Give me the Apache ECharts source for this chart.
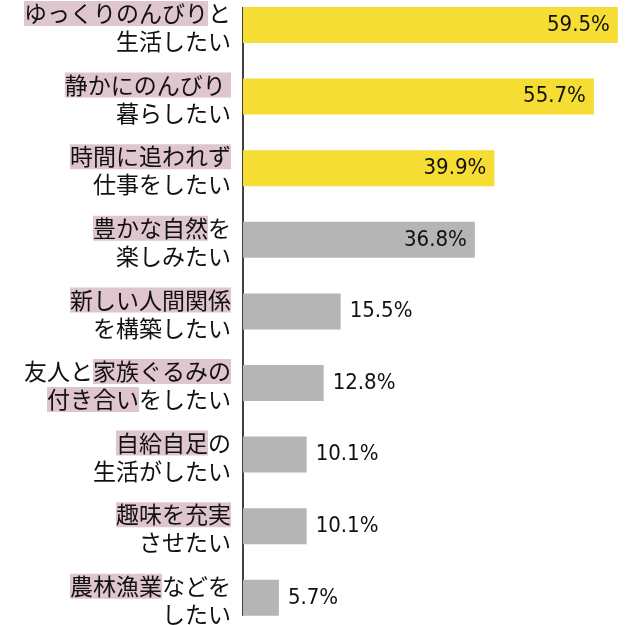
<!DOCTYPE html>
<html>
<head>
<meta charset="utf-8">
<script src="https://cdn.jsdelivr.net/npm/echarts@6/dist/echarts.min.js"></script>
<style>
  html, body { margin: 0; padding: 0; background: #fff; }
  #chart { width: 635px; height: 625px; }
</style>
</head>
<body>
<div id="chart"></div>
<script>
// カテゴリ ({h|...} = ハイライト部分)
var categories = [
    '{h|ゆっくりのんびり}と\n生活したい',
    '{h|静かにのんびり }\n暮らしたい',
    '{h|時間に追われず}\n仕事をしたい',
    '{h|豊かな自然}を\n楽しみたい',
    '{h|新しい人間関係}\nを構築したい',
    '友人と{h|家族ぐるみの}\n{h|付き合い}をしたい',
    '{h|自給自足}の\n生活がしたい',
    '{h|趣味を充実}\nさせたい',
    '{h|農林漁業}などを\nしたい'
];
var values = [59.5, 55.7, 39.9, 36.8, 15.5, 12.8, 10.1, 10.1, 5.7];
var highlighted = 3; // 上位3つは黄色

var yellow = '#f6dd33';
var gray = '#b5b5b5';
var numFont = '"Liberation Sans Narrow", "DejaVu Sans Condensed", sans-serif';
var jpFont = '"Noto Sans CJK JP", sans-serif';

var myChart = echarts.init(document.getElementById('chart'));

var barData = values.map(function (v, i) {
    return {
        value: v,
        itemStyle: { color: i < highlighted ? yellow : gray },
        label: { position: v > 30 ? 'insideRight' : 'right', distance: v > 30 ? 8 : 9 }
    };
});

var option = {
    animation: false,
    grid: { left: 243, right: 14, top: -10.8, height: 644.4, outerBoundsMode: 'none', containLabel: false },
    xAxis: { type: 'value', min: 0, max: 60, show: false },
    yAxis: {
        type: 'category',
        data: categories,
        inverse: true,
        axisLine: { show: false },
        axisTick: { show: false },
        axisLabel: {
            margin: 12,
            color: '#111',
            fontFamily: jpFont,
            fontSize: 23,
            lineHeight: 28,
            align: 'right',
            padding: [5, 0, 0, 0],
            rich: {
                h: {
                    backgroundColor: '#dfc5cf',
                    color: '#111',
                    fontFamily: jpFont,
                    fontSize: 23,
                    lineHeight: 28,
                    height: 25
                }
            }
        }
    },
    series: [{
        type: 'bar',
        data: barData,
        barWidth: 36,
        label: {
            show: true,
            color: '#111',
            fontFamily: numFont,
            fontSize: 22,
            formatter: function (p) { return p.value.toFixed(1) + '%'; }
        }
    }]
};
myChart.setOption(option);

// 縦軸線: 先頭バー上端から末尾バー下端まで
var pTop = myChart.convertToPixel({ gridIndex: 0 }, [0, 0]);
var pBot = myChart.convertToPixel({ gridIndex: 0 }, [0, categories.length - 1]);
myChart.setOption({
    graphic: [{
        type: 'line',
        shape: { x1: pTop[0], y1: pTop[1] - 18, x2: pBot[0], y2: pBot[1] + 18 },
        style: { stroke: '#000', lineWidth: 1.5 }
    }]
});
</script>
</body>
</html>
